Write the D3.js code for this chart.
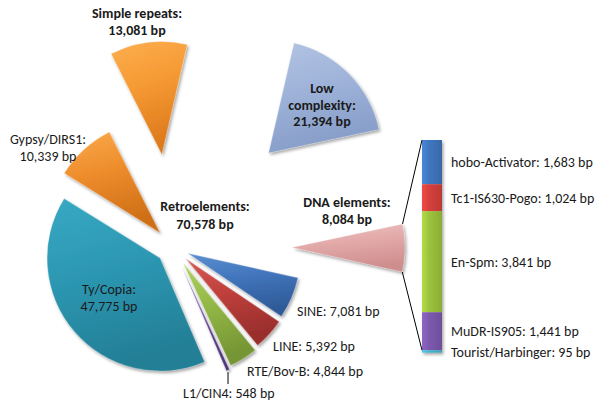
<!DOCTYPE html>
<html>
<head>
<meta charset="utf-8">
<script src="https://cdn.jsdelivr.net/npm/d3@7"></script>
<style>
  html, body { margin: 0; padding: 0; background: #ffffff; }
  svg { display: block; }
  text { font-family: Carlito, Calibri, Lato, "Open Sans", sans-serif; fill: #1a1a1a; }
</style>
</head>
<body>
<svg id="chart" width="600" height="415"></svg>
<script>
// ---- data ----
const categories = ["Low complexity", "DNA elements", "SINE", "LINE", "RTE/Bov-B", "L1/CIN4", "Ty/Copia", "Gypsy/DIRS1", "Simple repeats"];
const values = [21394, 8084, 7081, 5392, 4844, 548, 47775, 10339, 13081];
const dnaCategories = ["hobo-Activator", "Tc1-IS630-Pogo", "En-Spm", "MuDR-IS905", "Tourist/Harbinger"];
const dnaValues = [1683, 1024, 3841, 1441, 95];
const retroLabel = "Retroelements";
const retroValue = 70578;

// ---- styles ----
const sliceColors = {
  "Low complexity": ["#b2c4e3", "#a0b4da", "#869dc8"],
  "DNA elements":   ["#f0c4c4", "#e3aaaa", "#cf8e8e"],
  "SINE":           ["#5b8fd0", "#4276bd", "#2f5a98"],
  "LINE":           ["#d65a57", "#c0403d", "#992e2c"],
  "RTE/Bov-B":      ["#aed062", "#94b947", "#769534"],
  "L1/CIN4":        ["#7d5fb0", "#67489a", "#4f357a"],
  "Ty/Copia":       ["#38a9c3", "#2d98b3", "#237f96"],
  "Gypsy/DIRS1":    ["#fbab4e", "#ee8d2c", "#cf6f17"],
  "Simple repeats": ["#fcae4f", "#f69a34", "#dd7a1c"]
};
const explode = {
  "Low complexity": 134, "DNA elements": 119, "SINE": 16, "LINE": 17, "RTE/Bov-B": 19,
  "L1/CIN4": 22, "Ty/Copia": 17, "Gypsy/DIRS1": 19, "Simple repeats": 93
};
const barColors = ["#3f77c0", "#d6403d", "#9cc33c", "#7d59ae", "#48b5cf"];

const cx = 173, cy = 247, R = 113;
const startDeg = 13;
const FS = 14;

const svg = d3.select("#chart");
const defs = svg.append("defs");

const shadow = defs.append("filter").attr("id", "shadow")
  .attr("x", "-20%").attr("y", "-20%").attr("width", "140%").attr("height", "140%");
shadow.append("feDropShadow").attr("dx", 1.5).attr("dy", 2).attr("stdDeviation", 1.8)
  .attr("flood-color", "#000").attr("flood-opacity", 0.35);

categories.forEach((c, i) => {
  const g = defs.append("linearGradient").attr("id", "g" + i)
    .attr("x1", 0).attr("y1", 0).attr("x2", 0.25).attr("y2", 1);
  const cols = sliceColors[c];
  g.append("stop").attr("offset", "0%").attr("stop-color", cols[0]);
  g.append("stop").attr("offset", "45%").attr("stop-color", cols[1]);
  g.append("stop").attr("offset", "100%").attr("stop-color", cols[2]);
});

const pie = d3.pie().sort(null).value(d => d)
  .startAngle(startDeg * Math.PI / 180)
  .endAngle(startDeg * Math.PI / 180 + 2 * Math.PI);
const arcs = pie(values);
const arc = d3.arc().innerRadius(0).outerRadius(R);

function apexOf(a, name) {
  const m = (a.startAngle + a.endAngle) / 2;
  const e = explode[name];
  return [cx + e * Math.sin(m), cy - e * Math.cos(m)];
}

const sliceG = svg.append("g");
arcs.forEach((a, i) => {
  const name = categories[i];
  const [ax, ay] = apexOf(a, name);
  const g = sliceG.append("g").attr("transform", `translate(${ax},${ay})`);
  g.append("path").attr("d", arc(a))
    .attr("fill", `url(#g${i})`)
    .attr("filter", "url(#shadow)");
  g.append("path").attr("d", arc(a))
    .attr("fill", "none")
    .attr("stroke", "#ffffff").attr("stroke-opacity", 0.25).attr("stroke-width", 1.2)
    .attr("stroke-linejoin", "round");
});

// ---- bar of DNA elements ----
const barX = 422, barW = 20, barTop = 140, barBottom = 352.7;
const y = d3.scaleLinear().domain([0, d3.sum(dnaValues)]).range([barTop, barBottom]);
const cum = d3.cumsum(dnaValues);
const segs = dnaValues.map((v, i) => ({ name: dnaCategories[i], v, y0: cum[i] - v, y1: cum[i] }));

defs.selectAll("linearGradient.bar").data(barColors).enter().append("linearGradient")
  .attr("class", "bar").attr("id", (d, i) => "b" + i)
  .attr("x1", 0).attr("y1", 0).attr("x2", 1).attr("y2", 0)
  .each(function (d) {
    const c = d3.color(d);
    d3.select(this).append("stop").attr("offset", "0%").attr("stop-color", c.brighter(0.35));
    d3.select(this).append("stop").attr("offset", "35%").attr("stop-color", d);
    d3.select(this).append("stop").attr("offset", "100%").attr("stop-color", c.darker(0.35));
  });

const barG = svg.append("g").attr("filter", "url(#shadow)");
barG.selectAll("rect").data(segs).enter().append("rect")
  .attr("x", barX).attr("width", barW)
  .attr("y", d => y(d.y0)).attr("height", d => y(d.y1) - y(d.y0))
  .attr("fill", (d, i) => `url(#b${i})`);

// connectors from DNA slice to bar
const dnaIdx = categories.indexOf("DNA elements");
const dA = arcs[dnaIdx];
const [dax, day] = apexOf(dA, "DNA elements");
const p1 = [dax + R * Math.sin(dA.startAngle), day - R * Math.cos(dA.startAngle)];
const p2 = [dax + R * Math.sin(dA.endAngle), day - R * Math.cos(dA.endAngle)];
svg.append("line").attr("x1", p1[0]).attr("y1", p1[1]).attr("x2", barX).attr("y2", barTop)
  .attr("stroke", "#000").attr("stroke-width", 1);
svg.append("line").attr("x1", p2[0]).attr("y1", p2[1]).attr("x2", barX).attr("y2", y(cum[3]))
  .attr("stroke", "#000").attr("stroke-width", 1);

// bar labels
const fmt = d3.format(",");
svg.selectAll("text.barlab").data(segs).enter().append("text")
  .attr("class", "barlab")
  .attr("x", 451)
  .attr("y", (d, i) => (y(d.y0) + y(d.y1)) / 2 + (i === 4 ? 6 : 5))
  .attr("font-size", FS)
  .text(d => `${d.name}: ${fmt(d.v)} bp`);

// ---- pie labels ----
function label(lines, x, yy, opts = {}) {
  const t = svg.append("text").attr("x", x).attr("y", yy)
    .attr("font-size", opts.size || FS)
    .attr("font-weight", opts.bold ? "bold" : "normal")
    .attr("text-anchor", opts.anchor || "middle");
  lines.forEach((l, i) => {
    t.append("tspan").attr("x", x).attr("dy", i === 0 ? 0 : (opts.lh || 17.5)).text(l);
  });
}
const v = name => fmt(values[categories.indexOf(name)]) + " bp";

label(["Simple repeats:", v("Simple repeats")], 137, 18, { bold: true, lh: 17 });
label(["Gypsy/DIRS1:", v("Gypsy/DIRS1")], 48, 144, { lh: 16.5 });
label(["Low", "complexity:", v("Low complexity")], 322, 93, { bold: true, lh: 16.5 });
label([retroLabel + ":", fmt(retroValue) + " bp"], 205, 211, { bold: true, lh: 18 });
label(["DNA elements:", v("DNA elements")], 347, 207, { bold: true, lh: 17 });
label(["Ty/Copia:", v("Ty/Copia")], 109, 294, { lh: 17 });
label(["SINE: " + v("SINE")], 297, 316, { anchor: "start" });
label(["LINE: " + v("LINE")], 273, 351, { anchor: "start" });
label(["RTE/Bov-B: " + v("RTE/Bov-B")], 247, 376, { anchor: "start" });
label(["L1/CIN4: " + v("L1/CIN4")], 183, 398, { anchor: "start" });

// L1 leader line
const l1 = arcs[categories.indexOf("L1/CIN4")];
const [lx, ly] = apexOf(l1, "L1/CIN4");
const lm = (l1.startAngle + l1.endAngle) / 2;
const tipX = lx + R * Math.sin(lm), tipY = ly - R * Math.cos(lm);
svg.append("line").attr("x1", tipX).attr("y1", tipY + 2).attr("x2", tipX).attr("y2", 384)
  .attr("stroke", "#000").attr("stroke-width", 1);
</script>
</body>
</html>
